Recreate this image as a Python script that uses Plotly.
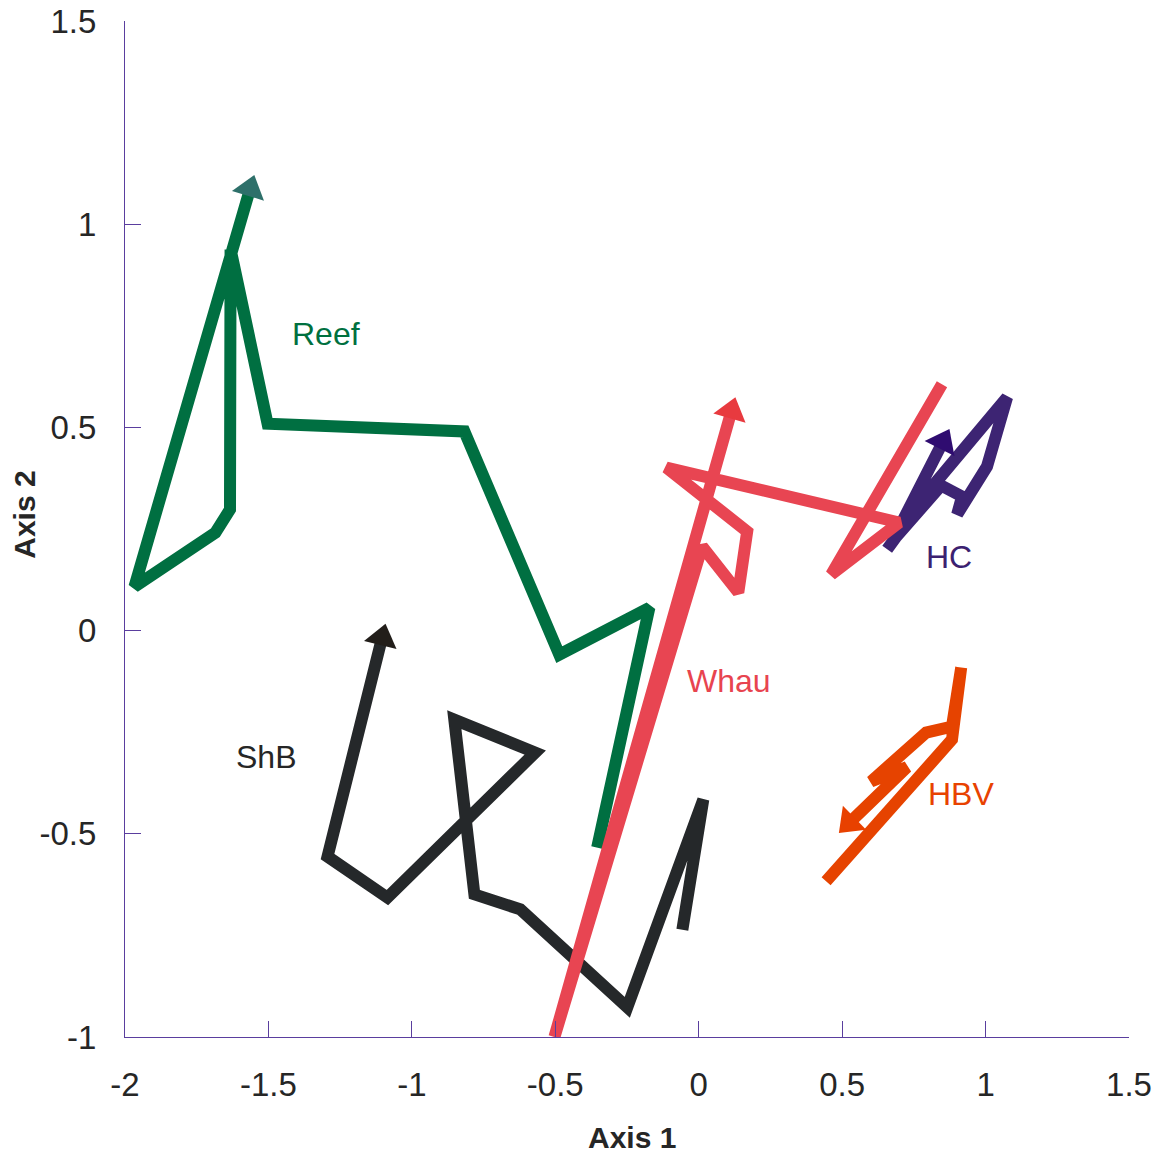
import plotly.graph_objects as go

# ---- data ----
# last point of every series = centre of its arrowhead
reef_x = [-0.354, -0.172, -0.486, -0.817, -1.503, -1.632, -1.634, -1.685, -1.967, -1.634, -1.564]
reef_y = [-0.534, 0.056, -0.059, 0.490, 0.509, 0.938, 0.298, 0.241, 0.108, 0.925, 1.087]

shb_x = [-0.057, 0.016, -0.249, -0.622, -0.782, -0.852, -0.570, -1.085, -1.294, -1.104]
shb_y = [-0.736, -0.416, -0.927, -0.686, -0.649, -0.219, -0.300, -0.657, -0.556, -0.018]

hc_x = [0.657, 0.821, 1.075, 1.005, 0.901, 0.918, 0.845, 0.674, 0.851]
hc_y = [0.200, 0.360, 0.574, 0.404, 0.286, 0.330, 0.357, 0.219, 0.464]

hbv_x = [0.444, 0.883, 0.915, 0.883, 0.793, 0.601, 0.726, 0.525]
hbv_y = [-0.617, -0.268, -0.091, -0.236, -0.251, -0.371, -0.336, -0.473]

whau_x = [0.848, 0.462, 0.699, -0.113, 0.169, 0.138, 0.012, -0.503, 0.114]
whau_y = [0.606, 0.138, 0.266, 0.401, 0.244, 0.094, 0.207, -1.0, 0.540]

labels = ["Reef", "ShB", "HC", "HBV", "Whau"]
label_x = [-1.298, -1.510, 0.873, 0.915, 0.106]
label_y = [0.731, -0.310, 0.180, -0.403, -0.123]

tick_vals_x = [-2, -1.5, -1, -0.5, 0, 0.5, 1, 1.5]
tick_text_x = ["-2", "-1.5", "-1", "-0.5", "0", "0.5", "1", "1.5"]
tick_vals_y = [-1, -0.5, 0, 0.5, 1, 1.5]
tick_text_y = ["-1", "-0.5", "0", "0.5", "1", "1.5"]

# ---- styles ----
line_colors = {"Reef": "#006f41", "ShB": "#25282a", "HC": "#3d2473", "HBV": "#e64300", "Whau": "#e84552"}
head_colors = {"Reef": "#2e706a", "ShB": "#221e1a", "HC": "#2f0c70", "HBV": "#e84100", "Whau": "#e83a3f"}
label_colors = {"Reef": "#00703f", "ShB": "#262626", "HC": "#3b2170", "HBV": "#e84200", "Whau": "#e8444f"}

series = {
    "Reef": (reef_x, reef_y),
    "ShB": (shb_x, shb_y),
    "HC": (hc_x, hc_y),
    "HBV": (hbv_x, hbv_y),
    "Whau": (whau_x, whau_y),
}

FONT = "Liberation Sans, Arial, sans-serif"
AX = "#5a3e9e"

fig = go.Figure()
for name in labels:
    xs, ys = series[name]
    n = len(xs)
    fig.add_trace(go.Scatter(
        x=xs, y=ys, mode="lines+markers", name=name,
        line=dict(color=line_colors[name], width=12),
        marker=dict(symbol="triangle-up", angleref="previous", opacity=1,
                    size=[0] * (n - 1) + [29],
                    color=head_colors[name], line=dict(width=0)),
        hoverinfo="skip", showlegend=False,
    ))

for name, lx, ly in zip(labels, label_x, label_y):
    fig.add_annotation(x=lx, y=ly, xref="x", yref="y", text=name, showarrow=False,
                       font=dict(family=FONT, size=32, color=label_colors[name]),
                       xanchor="center", yanchor="middle")

fig.add_annotation(x=0.505, y=-0.099, xref="paper", yref="paper", text="<b>Axis 1</b>",
                   showarrow=False, xanchor="center", yanchor="middle",
                   font=dict(family=FONT, size=30, color="#262626"))
fig.add_annotation(x=-0.0996, y=0.514, xref="paper", yref="paper", text="<b>Axis 2</b>",
                   showarrow=False, xanchor="center", yanchor="middle", textangle=-90,
                   font=dict(family=FONT, size=30, color="#262626"))

axis_common = dict(showgrid=False, zeroline=False, showline=True, linecolor=AX, linewidth=1,
                   ticks="inside", ticklen=16, tickcolor=AX, tickwidth=1, mirror=False,
                   automargin=False,
                   tickfont=dict(family=FONT, size=33, color="#262626"), tickmode="array")

fig.update_xaxes(range=[-2, 1.5], tickvals=tick_vals_x, ticktext=tick_text_x,
                 ticklabelstandoff=18, **axis_common)
fig.update_yaxes(range=[-1, 1.5], tickvals=tick_vals_y, ticktext=tick_text_y,
                 ticklabelstandoff=21, ticklabelshift=0, **axis_common)

fig.update_layout(width=1171, height=1159, paper_bgcolor="white", plot_bgcolor="white",
                  margin=dict(l=125, r=42, t=21, b=122), showlegend=False)

fig.write_html("out.html")
